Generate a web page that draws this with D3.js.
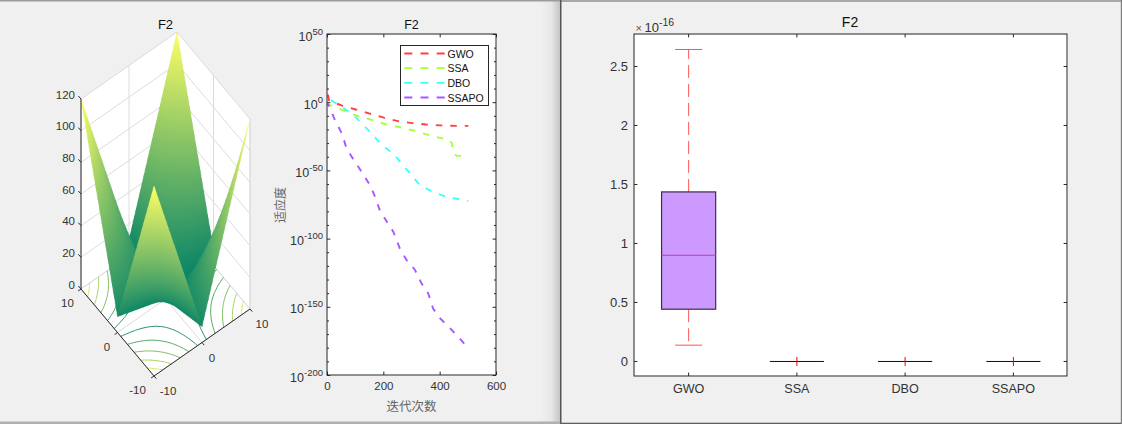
<!DOCTYPE html>
<html><head><meta charset="utf-8">
<script src="https://cdn.jsdelivr.net/npm/d3@7"></script>
<style>
html,body{margin:0;padding:0;background:#f0f0f0;overflow:hidden}
svg{display:block}
svg text{font-family:"Liberation Sans",Arial,sans-serif}
</style></head><body>
<script>
// ---------- data ----------
const title = "F2";
const algorithms = ["GWO","SSA","DBO","SSAPO"];
const seriesColors = ["#ff0000","#88ff00","#00ffff","#8822ff"];

const gridXY = [-10,-8,-6,-4,-2,0,2,4,6,8,10];
const surfaceZ = [
 [120,98,76,54,32,10,32,54,76,98,120],
 [98,80,62,44,26,8,26,44,62,80,98],
 [76,62,48,34,20,6,20,34,48,62,76],
 [54,44,34,24,14,4,14,24,34,44,54],
 [32,26,20,14,8,2,8,14,20,26,32],
 [10,8,6,4,2,0,2,4,6,8,10],
 [32,26,20,14,8,2,8,14,20,26,32],
 [54,44,34,24,14,4,14,24,34,44,54],
 [76,62,48,34,20,6,20,34,48,62,76],
 [98,80,62,44,26,8,26,44,62,80,98],
 [120,98,76,54,32,10,32,54,76,98,120]
];
const zTicks = [0,20,40,60,80,100,120];
const xyTicks = [-10,0,10];
const contourLevels = [20,40,60,80,100];

// convergence curves: [iteration, log10(fitness)]
const curveGWO = [[1,7],[5,2],[10,1],[50,-2],[100,-5],[150,-8],[200,-11],[250,-13.5],[300,-15],[350,-16],[400,-16.6],[450,-17],[500,-17]];
const curveSSA = [[1,-1],[12,-2],[53,-5.5],[106,-9.7],[153,-12.4],[206,-15.8],[257,-18],[310,-20.7],[363,-23.9],[411,-26.3],[430,-26.8],[442,-30],[445,-36],[458,-39],[500,-39]];
const curveDBO = [[1,1.8],[12,1.8],[50,-3],[92,-9],[127,-16.5],[157,-22.6],[192,-31],[234,-37.4],[263,-44.6],[298,-53],[328,-60.6],[375,-65.4],[422,-69],[500,-72]];
const curveSSAPO = [[1,-0.6],[27,-13],[51,-22.6],[66,-32.4],[86,-39.7],[121,-50.7],[151,-60.5],[169,-69],[186,-79],[204,-85],[234,-94.7],[257,-107],[281,-115.5],[310,-122.4],[334,-132.6],[358,-140],[375,-151],[399,-158],[434,-165],[470,-173],[500,-180]];
const curveExpTicks = [50,0,-50,-100,-150,-200];
const curveMinorExp = d3.range(-190,50,10);
const iterTicks = [0,200,400,600];

// box plot statistics (units of 1e-16)
const boxLow = [0.138,0,0,0];
const boxQ1 = [0.443,0,0,0];
const boxMed = [0.90,0,0,0];
const boxQ3 = [1.437,0,0,0];
const boxHigh = [2.644,0,0,0];
const boxYTicks = [0,0.5,1,1.5,2,2.5];

// ---------- page ----------
const W=1122,H=424, INK="#262626", TXT="#333";
const svg=d3.select("body").append("svg").attr("width",W).attr("height",H);
const defs=svg.append("defs");
const sh=defs.append("linearGradient").attr("id","shadow");
sh.append("stop").attr("offset","0").attr("stop-color","#f0f0f0");
sh.append("stop").attr("offset","0.55").attr("stop-color","#e8e8e8");
sh.append("stop").attr("offset","1").attr("stop-color","#c4c4c4");
svg.append("rect").attr("width",W).attr("height",H).attr("fill","#f0f0f0");
svg.append("rect").attr("x",540).attr("y",1).attr("width",20).attr("height",421).attr("fill","url(#shadow)");
svg.append("rect").attr("x",0).attr("y",0).attr("width",560).attr("height",1.5).attr("fill","#9c9c9c");
svg.append("rect").attr("x",560).attr("y",0).attr("width",562).attr("height",2).attr("fill","#a8a8a8");
svg.append("rect").attr("x",0).attr("y",421.5).attr("width",560).attr("height",2.5).attr("fill","#b0b0b0");
svg.append("rect").attr("x",560).attr("y",0).attr("width",1.5).attr("height",H).attr("fill","#555");
svg.append("rect").attr("x",560).attr("y",422.7).attr("width",562).attr("height",1.3).attr("fill","#606060");
svg.append("rect").attr("x",1120.8).attr("y",0).attr("width",1.2).attr("height",H).attr("fill","#808080");

function titleText(x,y,size){
  svg.append("text").attr("x",x).attr("y",y).attr("text-anchor","middle")
    .attr("dominant-baseline","central").attr("font-size",size).attr("fill","#111").text(title);
}

// ---------- 3-D surface ----------
(function(){
  const g=svg.append("g");
  const u=d3.scaleLinear().domain([-10,10]).range([0,1]);
  const zPix=d3.scaleLinear().domain([0,120]).range([0,190]);
  const O={x:154,y:376}, EX={x:96,y:-67}, EY={x:-73,y:-87};
  const P=(x,y,z)=>[O.x+u(x)*EX.x+u(y)*EY.x, O.y+u(x)*EX.y+u(y)*EY.y-zPix(z)];
  const pts=a=>a.map(p=>p.join(",")).join(" ");
  const color=d3.scaleLinear().domain([0,120]).range(["#008066","#ffff66"]);
  const GRID="#dcdcdc";

  g.append("polygon").attr("fill","#fff").attr("points",pts([P(-10,-10,0),P(10,-10,0),P(10,-10,120),P(10,10,120),P(-10,10,120),P(-10,10,0)]));
  const line=(a,b,c,w)=>g.append("line").attr("x1",a[0]).attr("y1",a[1]).attr("x2",b[0]).attr("y2",b[1]).attr("stroke",c).attr("stroke-width",w||1);
  zTicks.forEach(z=>{ line(P(-10,10,z),P(10,10,z),GRID); line(P(10,10,z),P(10,-10,z),GRID); });
  xyTicks.forEach(t=>{
    line(P(t,10,0),P(t,10,120),GRID); line(P(10,t,0),P(10,t,120),GRID);
    line(P(t,-10,0),P(t,10,0),GRID); line(P(-10,t,0),P(10,t,0),GRID);
  });
  line(P(10,-10,0),P(10,-10,120),GRID);

  const sub=4, n=(gridXY.length-1)*sub+1;
  const zAt=(fi,fj)=>{
    const i=Math.min(Math.floor(fi),gridXY.length-2), j=Math.min(Math.floor(fj),gridXY.length-2);
    const a=fi-i,b=fj-j;
    return (1-a)*(1-b)*surfaceZ[i][j]+a*(1-b)*surfaceZ[i+1][j]+(1-a)*b*surfaceZ[i][j+1]+a*b*surfaceZ[i+1][j+1];
  };
  const toXY=d3.scaleLinear().domain([0,gridXY.length-1]).range([gridXY[0],gridXY[gridXY.length-1]]);
  const vals=new Float64Array(n*n);
  for(let j=0;j<n;j++)for(let i=0;i<n;i++)vals[j*n+i]=zAt(i/sub,j/sub);

  // contour lines on the floor
  const contours=d3.contours().size([n,n]).thresholds(contourLevels)(vals);
  const dataOf=d3.scaleLinear().domain([0.5,n-0.5]).range([-10,10]);
  contours.forEach(c=>{
    let d="";
    c.coordinates.forEach(poly=>poly.forEach(ring=>{
      let pen=false;
      ring.forEach(p=>{
        const inside=p[0]>=0.5&&p[0]<=n-0.5&&p[1]>=0.5&&p[1]<=n-0.5;
        if(!inside){pen=false;return;}
        const q=P(dataOf(p[0]),dataOf(p[1]),0);
        d+=(pen?"L":"M")+q[0].toFixed(2)+","+q[1].toFixed(2);
        pen=true;
      });
    }));
    g.append("path").attr("d",d).attr("fill","none").attr("stroke",color(c.value)).attr("stroke-width",1);
  });

  // surface painted back to front into a supersampled bitmap, then placed in the svg
  const ox=70,oy=25,cw=200,ch=320,ss=3;
  const cv=document.createElement("canvas"); cv.width=cw*ss; cv.height=ch*ss;
  const ctx=cv.getContext("2d"); const img=ctx.createImageData(cv.width,cv.height);
  const lut=d3.range(257).map(k=>d3.rgb(color(k/256*120)));
  const steps=2400, cellMax=gridXY.length-1;
  for(let a=steps;a>=0;a--){
    const fa=a/steps*cellMax, xv=toXY(fa);
    for(let b=steps;b>=0;b--){
      const fb=b/steps*cellMax, z=zAt(fa,fb);
      const p=P(xv,toXY(fb),z);
      const px=Math.floor((p[0]-ox)*ss), py=Math.floor((p[1]-oy)*ss);
      if(px<0||py<0||px>=cv.width||py>=cv.height)continue;
      const c=lut[Math.round(z/120*256)], k=(py*cv.width+px)*4;
      img.data[k]=c.r;img.data[k+1]=c.g;img.data[k+2]=c.b;img.data[k+3]=255;
    }
  }
  ctx.putImageData(img,0,0);
  g.append("image").attr("x",ox).attr("y",oy).attr("width",cw).attr("height",ch).attr("href",cv.toDataURL("image/png"));

  // axes
  const A="#2a2a2a";
  line(P(-10,10,0),P(-10,10,120),A);
  line(P(-10,10,0),P(-10,-10,0),A);
  line(P(-10,-10,0),P(10,-10,0),A);
  const tk=(p,dx,dy)=>line(p,[p[0]+dx,p[1]+dy],A);
  zTicks.forEach(z=>tk(P(-10,10,z),-2.6,-3));
  xyTicks.forEach(t=>{ tk(P(-10,t,0),-2.9,2); tk(P(t,-10,0),2.2,2.6); });
  const label=(x,y,s,anchor)=>g.append("text").attr("x",x).attr("y",y).attr("text-anchor",anchor||"middle")
     .attr("dominant-baseline","central").attr("font-size",11.5).attr("fill",TXT).text(s);
  zTicks.forEach(z=>{const p=P(-10,10,z); label(75,p[1]-4.5,z,"end");});
  xyTicks.forEach(t=>{
    const a=P(-10,t,0), b=P(t,-10,0);
    label(a[0]-10.5-(t==-10?6:0)+(t==10?-3:0),a[1]+14,t);
    label(b[0]+10-(t==-10?-4:0)+(t==10?2:0),b[1]+15,t);
  });
})();
titleText(165.5,24,13);

function axisStyle(s,size){
  s.attr("font-family",null).attr("font-size",null);
  s.selectAll(".domain").remove();
  s.selectAll("line").attr("stroke",INK);
  s.selectAll("text").attr("fill",TXT).attr("font-size",size||11.5);
}

// ---------- convergence ----------
(function(){
  const x0=327.5,x1=496.5,y0=34.5,y1=375.5;
  const g=svg.append("g");
  g.append("rect").attr("x",x0).attr("y",y0).attr("width",x1-x0).attr("height",y1-y0).attr("fill","#fff");
  const x=d3.scaleLinear().domain([0,600]).range([x0,x1]);
  const y=d3.scaleLog().domain([1e-200,1e50]).range([y1,y0]);
  const pow=e=>Math.pow(10,e);
  const line=d3.line().x(d=>x(d[0])).y(d=>y(pow(d[1])));
  const DASH=6.5, GAP=8, endGap=[0,4,1,0];
  [curveGWO,curveSSA,curveDBO,curveSSAPO].forEach((c,i)=>{
    const p=g.append("path").attr("d",line(c)).attr("fill","none").attr("stroke",seriesColors[i])
      .attr("stroke-width",1.9).attr("stroke-opacity",0.75).attr("stroke-dasharray",DASH+","+GAP);
    // align the pattern so that the curve finishes on a dash, as in the reference
    const len=p.node().getTotalLength();
    p.attr("stroke-dashoffset",((len-endGap[i]-DASH)%(DASH+GAP)).toFixed(2));
  });
  const ax=(gen,tx,ty,size)=>{const s=g.append("g").attr("transform",`translate(${tx-0.5},${ty-0.5})`).call(gen);axisStyle(s,size);return s;};
  ax(d3.axisBottom(x).tickValues(iterTicks).tickFormat(d3.format("d")).tickSize(-3.4).tickSizeOuter(0).tickPadding(7),0,y1,11.5);
  ax(d3.axisTop(x).tickValues(iterTicks).tickFormat("").tickSize(-3.4).tickSizeOuter(0),0,y0);
  ax(d3.axisLeft(y).tickValues(curveExpTicks.map(pow)).tickFormat("").tickSize(-3.4).tickSizeOuter(0),x0,0);
  ax(d3.axisRight(y).tickValues(curveExpTicks.map(pow)).tickFormat("").tickSize(-3.4).tickSizeOuter(0),x1,0);
  ax(d3.axisLeft(y).tickValues(curveMinorExp.filter(e=>e%50).map(pow)).tickFormat("").tickSize(-2).tickSizeOuter(0),x0,0);
  ax(d3.axisRight(y).tickValues(curveMinorExp.filter(e=>e%50).map(pow)).tickFormat("").tickSize(-2).tickSizeOuter(0),x1,0);
  g.append("rect").attr("x",x0-0.5).attr("y",y0-0.5).attr("width",x1-x0).attr("height",y1-y0).attr("fill","none").attr("stroke",INK);
  curveExpTicks.forEach(e=>{
    const t=g.append("text").attr("x",323).attr("y",y(pow(e))+6).attr("text-anchor","end").attr("fill",TXT);
    t.append("tspan").attr("font-size",12.5).text("10");
    t.append("tspan").attr("font-size",9.5).attr("dy",-6).text(e);
  });
  // legend
  const lg=g.append("g");
  lg.append("rect").attr("x",400.5).attr("y",45.5).attr("width",88).attr("height",60).attr("fill","#fff").attr("stroke",INK).attr("stroke-width",1);
  const ly=d3.scalePoint().domain(algorithms).range([53.5,97.5]);
  algorithms.forEach((a,i)=>{
    lg.append("line").attr("x1",404.3).attr("x2",445).attr("y1",ly(a)).attr("y2",ly(a)).attr("stroke",seriesColors[i])
      .attr("stroke-width",1.9).attr("stroke-opacity",0.75).attr("stroke-dasharray","8,8.2");
    lg.append("text").attr("x",447.5).attr("y",ly(a)).attr("dominant-baseline","central").attr("font-size",10.5).attr("fill","#111").text(a);
  });
  const cjk='"Noto Sans CJK SC",sans-serif';
  g.append("text").attr("x",411.5).attr("y",405.5).attr("text-anchor","middle").attr("dominant-baseline","central")
    .attr("font-size",12.5).attr("fill","#666").style("font-family",cjk).text("迭代次数");
  g.append("text").attr("transform","translate(279.5,205) rotate(-90)").attr("text-anchor","middle").attr("dominant-baseline","central")
    .attr("font-size",12).attr("fill","#666").style("font-family",cjk).text("适应度");
})();
titleText(411.5,25,12.5);

// ---------- box plot ----------
(function(){
  const x0=634.5,x1=1067.5,y0=34.5,y1=376.5;
  const g=svg.append("g");
  g.append("rect").attr("x",x0).attr("y",y0).attr("width",x1-x0).attr("height",y1-y0).attr("fill","#fff");
  const pos=d3.scaleLinear().domain([0.5,4.5]).range([x0,x1]);
  const y=d3.scaleLinear().domain([-0.1273,2.771]).range([y1,y0]);
  const band=d3.scalePoint().domain(algorithms).range([pos(1),pos(4)]);
  const L=(a,b,c,d,col,w,dash)=>g.append("line").attr("x1",a).attr("x2",c).attr("y1",b).attr("y2",d)
     .attr("stroke",col).attr("stroke-width",w).attr("stroke-dasharray",dash||null);
  const bw=pos(1.25)-pos(1), cw=pos(1.125)-pos(1);
  algorithms.forEach((a,i)=>{
    const c=band(a);
    if(boxHigh[i]>boxLow[i]){
      L(c,y(boxQ3[i]),c,y(boxHigh[i]),"#ff5a5a",1,"13,6");
      L(c,y(boxQ1[i]),c,y(boxLow[i]),"#ff5a5a",1,"13,6");
      L(c-cw,y(boxHigh[i]),c+cw,y(boxHigh[i]),"#ff5050",1);
      L(c-cw,y(boxLow[i]),c+cw,y(boxLow[i]),"#ff7070",1.2);
      g.append("rect").attr("x",c-bw).attr("y",y(boxQ3[i])).attr("width",2*bw).attr("height",y(boxQ1[i])-y(boxQ3[i]))
        .attr("fill","#cc99ff").attr("stroke","#3c3048").attr("stroke-width",1.2);
      L(c-bw,y(boxMed[i]),c+bw,y(boxMed[i]),"#c03cb0",1);
    } else {
      L(c-bw,y(boxMed[i]),c+bw,y(boxMed[i]),"#111",1);
      L(c,y(boxMed[i])-4.5,c,y(boxMed[i])+4.5,"#ee0000",1);
    }
  });
  const ax=(gen,tx,ty,size)=>{const s=g.append("g").attr("transform",`translate(${tx-0.5},${ty-0.5})`).call(gen);axisStyle(s,size);return s;};
  ax(d3.axisBottom(band).tickSize(-3.4).tickSizeOuter(0).tickPadding(8),0,y1,12.6);
  ax(d3.axisTop(band).tickFormat("").tickSize(-3.4).tickSizeOuter(0),0,y0);
  ax(d3.axisLeft(y).tickValues(boxYTicks).tickFormat(d=>String(d)).tickSize(-3.4).tickSizeOuter(0).tickPadding(6),x0,0,13);
  ax(d3.axisRight(y).tickValues(boxYTicks).tickFormat("").tickSize(-3.4).tickSizeOuter(0),x1,0);
  g.append("rect").attr("x",x0-0.5).attr("y",y0-0.5).attr("width",x1-x0).attr("height",y1-y0).attr("fill","none").attr("stroke",INK);
  const ex=g.append("text").attr("x",635.5).attr("y",31.5).attr("fill",TXT);
  ex.append("tspan").attr("font-size",11).attr("fill","#555").text("×");
  ex.append("tspan").attr("font-size",13).attr("dx",2.5).text("10");
  ex.append("tspan").attr("font-size",10.5).attr("dy",-6).text("-16");
})();
titleText(850,21.5,14);
</script>
</body></html>
